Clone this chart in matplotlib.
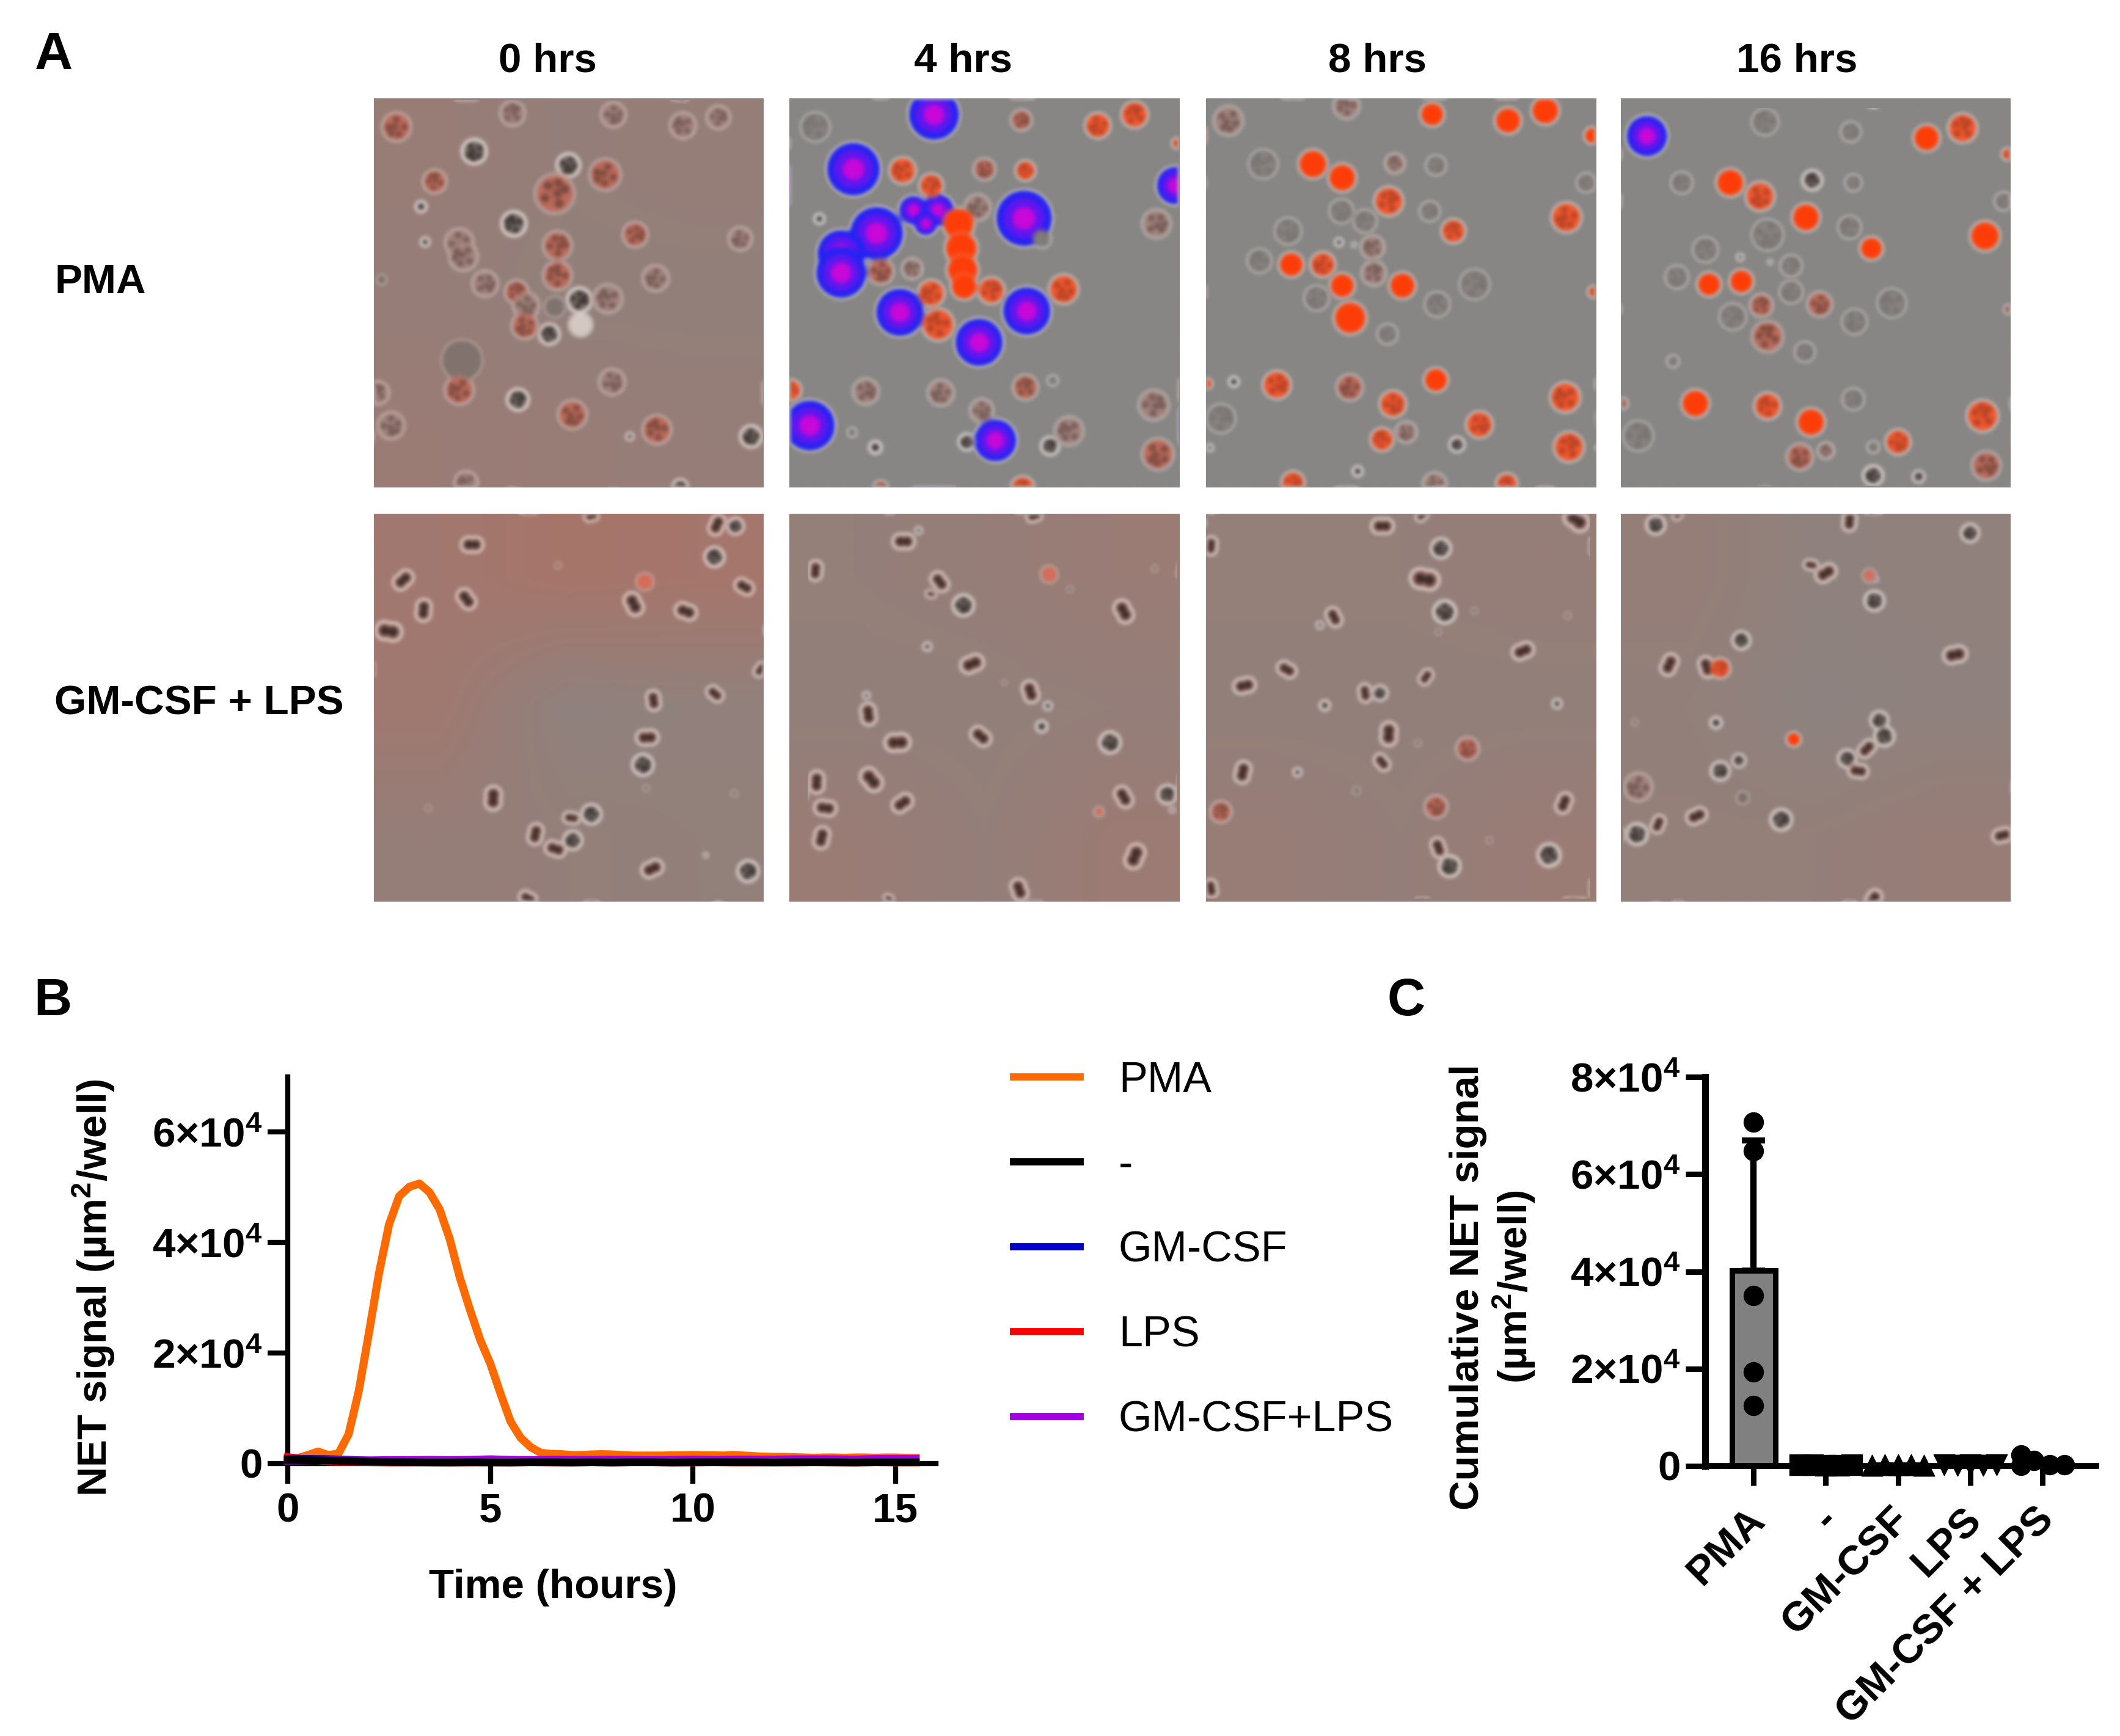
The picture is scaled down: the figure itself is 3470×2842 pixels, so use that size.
import math
import numpy as np
import matplotlib
matplotlib.use("Agg")
import matplotlib.pyplot as plt
from matplotlib.lines import Line2D
from matplotlib.transforms import ScaledTranslation

plt.rcParams["font.family"] = ["Liberation Sans", "DejaVu Sans"]
plt.rcParams["mathtext.fontset"] = "custom"
plt.rcParams["mathtext.rm"] = "Liberation Sans:bold"
plt.rcParams["mathtext.bf"] = "Liberation Sans:bold"
plt.rcParams["mathtext.default"] = "bf"

W, H = 3470, 2842

# --- panel A: cell positions (x, y, radius, kind)
pma_0 = [(350, 1030, 75, "m"), (690, 835, 38, "m"), (785, 900, 45, "w"),
         (110, 175, 55, "q"), (535, 125, 48, "p"), (905, 130, 48, "p"), (1160, 170, 50, "p"), (1290, 140, 45, "p"),
         (395, 265, 48, "d"), (250, 375, 45, "q"), (200, 467, 22, "s"), (875, 350, 60, "q"), (690, 420, 75, "q"),
         (740, 315, 45, "d"), (540, 530, 48, "d"), (985, 570, 48, "q"), (1370, 585, 45, "p"), (215, 597, 18, "s"),
         (340, 600, 55, "p"), (355, 650, 55, "p"), (700, 610, 55, "q"), (55, 735, 18, "f"), (700, 720, 55, "q"),
         (435, 750, 50, "p"), (1060, 730, 50, "p"), (550, 780, 45, "q"), (585, 830, 50, "p"), (885, 805, 55, "p"),
         (780, 810, 48, "d"), (580, 905, 50, "q"), (670, 935, 40, "d"), (900, 1110, 50, "p"), (340, 1140, 55, "q"),
         (555, 1175, 42, "d"), (755, 1230, 55, "q"), (1065, 1285, 55, "q"), (965, 1310, 15, "s"), (1410, 1310, 42, "d"),
         (40, 1150, 45, "p"), (90, 1270, 52, "p"), (365, 1480, 45, "p"), (1150, 1495, 30, "d")]

pma_4 = [(625, 130, 95, "b"), (330, 330, 100, "b"), (415, 565, 100, "b"), (285, 640, 90, "b"), (285, 710, 95, "b"),
         (550, 480, 55, "b"), (640, 480, 60, "b"), (595, 530, 45, "b"), (955, 510, 105, "b"), (500, 855, 90, "b"),
         (965, 850, 90, "b"), (790, 965, 90, "b"), (170, 1270, 95, "b"), (850, 1325, 80, "b"), (1510, 390, 72, "b"),
         (945, 150, 40, "q"), (1225, 170, 48, "o"), (1360, 130, 50, "o"), (1515, 235, 20, "o"), (510, 335, 50, "o"),
         (615, 390, 45, "o"), (810, 330, 42, "q"), (960, 335, 38, "o"), (1440, 530, 55, "p"), (785, 470, 50, "p"),
         (1020, 585, 35, "g"), (430, 705, 50, "q"), (545, 695, 40, "p"), (715, 530, 60, "r"), (725, 620, 62, "r"),
         (730, 700, 60, "r"), (735, 760, 50, "r"), (615, 785, 50, "o"), (835, 775, 50, "o"), (1100, 770, 55, "o"),
         (640, 900, 60, "o"), (375, 1145, 50, "p"), (650, 1150, 50, "p"), (960, 1130, 48, "q"), (800, 1215, 45, "p"),
         (1120, 1290, 55, "p"), (1430, 1195, 58, "p"), (1445, 1375, 60, "q"), (100, 1140, 40, "o"), (410, 1350, 25, "s"),
         (745, 1330, 32, "d"), (1050, 1345, 35, "d"), (205, 512, 20, "s"), (190, 175, 55, "g"), (1060, 1105, 20, "g"),
         (325, 1295, 18, "g"), (950, 1500, 45, "o"), (430, 1500, 30, "q")]

pma_8 = [(90, 90, 62, "p"), (565, 30, 55, "p"), (910, 65, 50, "r"), (1215, 90, 55, "r"), (1365, 50, 58, "r"),
         (1555, 150, 35, "r"), (230, 265, 60, "g"), (430, 265, 60, "r"), (548, 320, 58, "r"), (760, 262, 42, "p"),
         (925, 270, 42, "g"), (1530, 340, 40, "g"), (735, 415, 60, "o"), (545, 455, 50, "g"), (640, 495, 48, "g"),
         (900, 455, 42, "g"), (1450, 480, 62, "o"), (995, 535, 50, "o"), (330, 535, 55, "g"), (670, 600, 50, "p"),
         (535, 580, 18, "s"), (595, 590, 10, "s"), (215, 655, 50, "g"), (343, 670, 52, "r"), (470, 670, 52, "o"),
         (675, 705, 52, "p"), (548, 755, 52, "r"), (790, 755, 55, "r"), (1080, 750, 62, "g"), (445, 805, 52, "g"),
         (930, 830, 52, "g"), (580, 885, 68, "r"), (730, 950, 42, "g"), (1560, 780, 25, "o"), (5, 1150, 22, "r"),
         (112, 1142, 22, "s"), (285, 1155, 58, "o"), (578, 1165, 55, "q"), (925, 1135, 50, "r"), (752, 1232, 55, "o"),
         (1445, 1205, 62, "o"), (60, 1290, 60, "g"), (805, 1345, 45, "p"), (708, 1375, 48, "o"), (1100, 1315, 55, "o"),
         (1010, 1395, 32, "d"), (1460, 1405, 62, "o"), (15, 1408, 15, "s"), (610, 1503, 22, "s"), (350, 1550, 48, "o"),
         (920, 1555, 50, "p"), (1210, 1555, 45, "o")]

pma_16 = [(105, 152, 85, "b"), (580, 95, 55, "g"), (925, 135, 42, "g"), (1230, 160, 55, "r"), (1375, 120, 60, "o"),
          (1555, 225, 25, "o"), (245, 340, 45, "g"), (440, 340, 58, "r"), (560, 395, 60, "o"), (770, 330, 42, "d"),
          (935, 340, 35, "g"), (1540, 415, 38, "g"), (745, 480, 58, "r"), (590, 550, 65, "g"), (920, 520, 48, "g"),
          (1465, 555, 62, "r"), (1008, 605, 48, "r"), (340, 610, 52, "g"), (480, 640, 15, "s"), (600, 660, 10, "s"),
          (685, 675, 45, "g"), (225, 720, 48, "g"), (355, 750, 50, "r"), (485, 738, 50, "r"), (685, 780, 48, "g"),
          (565, 835, 48, "q"), (800, 830, 52, "q"), (1090, 825, 60, "g"), (450, 880, 55, "g"), (940, 900, 52, "g"),
          (590, 960, 65, "q"), (740, 1022, 42, "g"), (1560, 850, 20, "q"), (210, 1060, 25, "g"), (300, 1230, 58, "r"),
          (590, 1240, 55, "o"), (935, 1212, 45, "g"), (765, 1305, 58, "r"), (1455, 1280, 65, "o"), (1115, 1385, 52, "o"),
          (5, 1230, 25, "q"), (70, 1360, 62, "g"), (720, 1445, 55, "q"), (825, 1420, 35, "p"), (1470, 1480, 60, "q"),
          (1015, 1520, 42, "d"), (1198, 1525, 25, "d"), (1015, 1405, 25, "g")]

gm_0 = [(395, 125, 42, "n"), (118, 268, 42, "n"), (200, 390, 42, "n"), (372, 345, 42, "n"), (60, 475, 50, "n"),
        (740, 210, 12, "f"), (1090, 275, 35, "t"), (1045, 365, 45, "n"), (1255, 395, 42, "n"), (1370, 175, 42, "d"),
        (1380, 45, 40, "n"), (1455, 50, 35, "d"), (1490, 295, 38, "n"), (875, 10, 28, "n"), (1555, 630, 30, "n"),
        (1125, 755, 38, "n"), (1372, 728, 35, "n"), (1100, 905, 42, "n"), (1082, 1015, 45, "d"), (480, 1150, 45, "n"),
        (220, 1190, 12, "f"), (795, 1230, 32, "n"), (875, 1215, 42, "d"), (650, 1295, 40, "n"), (800, 1320, 40, "d"),
        (730, 1355, 40, "n"), (1120, 1435, 42, "n"), (1335, 1380, 10, "s"), (1505, 1445, 45, "d"), (620, 1555, 35, "n"),
        (1095, 1110, 12, "f"), (1450, 1130, 12, "f")]

gm_4 = [(460, 112, 42, "n"), (520, 68, 15, "s"), (105, 230, 38, "n"), (605, 275, 40, "n"), (570, 325, 20, "n"),
        (700, 370, 45, "d"), (1045, 245, 35, "t"), (1345, 395, 45, "n"), (555, 537, 18, "s"), (735, 607, 45, "n"),
        (865, 682, 10, "f"), (970, 720, 42, "n"), (1040, 777, 18, "s"), (1015, 860, 25, "s"), (310, 735, 15, "s"),
        (318, 810, 42, "n"), (770, 900, 42, "n"), (435, 925, 48, "n"), (1290, 925, 45, "d"), (110, 1085, 42, "n"),
        (330, 1075, 48, "n"), (145, 1190, 42, "n"), (455, 1170, 42, "n"), (130, 1310, 42, "n"), (1345, 1145, 42, "n"),
        (1520, 1135, 40, "d"), (1540, 1197, 12, "s"), (1390, 1385, 48, "n"), (925, 1520, 42, "n"), (400, 1555, 20, "n"),
        (985, 10, 30, "n"), (1245, 1205, 20, "t"), (1470, 222, 12, "f"), (1130, 305, 12, "f")]

gm_8 = [(710, 50, 42, "n"), (870, 5, 28, "n"), (20, 130, 35, "n"), (945, 140, 42, "d"), (880, 265, 55, "n"),
        (960, 397, 48, "d"), (935, 478, 12, "f"), (515, 418, 38, "n"), (458, 450, 15, "s"), (1275, 555, 42, "n"),
        (1080, 392, 12, "f"), (1455, 412, 12, "f"), (325, 630, 38, "n"), (155, 695, 42, "n"), (885, 660, 32, "n"),
        (640, 725, 35, "n"), (700, 725, 32, "d"), (478, 775, 22, "s"), (1412, 768, 20, "s"), (735, 890, 45, "n"),
        (708, 1005, 35, "n"), (1052, 950, 48, "q"), (852, 928, 12, "f"), (148, 1045, 42, "n"), (368, 1045, 18, "s"),
        (60, 1205, 45, "q"), (925, 1185, 48, "q"), (1440, 1170, 40, "n"), (935, 1350, 38, "n"), (980, 1425, 45, "d"),
        (1380, 1380, 48, "d"), (1140, 1320, 12, "f"), (20, 1515, 35, "n"), (1490, 25, 50, "n"), (605, 1120, 15, "f")]

gm_16 = [(140, 45, 40, "d"), (230, 5, 22, "n"), (920, 30, 38, "n"), (1405, 78, 38, "d"), (765, 207, 28, "n"),
         (825, 240, 42, "n"), (1000, 250, 28, "t"), (1025, 265, 10, "s"), (1020, 352, 42, "d"), (485, 512, 38, "d"),
         (195, 610, 42, "n"), (345, 620, 40, "n"), (400, 625, 42, "o"), (1345, 570, 45, "n"), (55, 843, 12, "f"),
         (383, 845, 25, "s"), (1040, 835, 38, "d"), (1060, 900, 42, "d"), (990, 950, 38, "n"), (695, 912, 30, "r"),
         (910, 990, 38, "d"), (955, 1040, 38, "n"), (475, 998, 28, "d"), (400, 1040, 40, "d"), (70, 1105, 60, "p"),
         (490, 1148, 25, "f"), (305, 1222, 40, "n"), (150, 1255, 35, "n"), (645, 1237, 45, "d"), (65, 1295, 45, "d"),
         (1535, 1300, 38, "n"), (1015, 1560, 40, "n")]

# pink tint of each micrograph background, coarse 3x3 grid
tint_pma_0 = [[0.45, 0.35, 0.4], [0.4, 0.3, 0.3], [0.5, 0.45, 0.4]]
tint_flat = [[0.0, 0.0, 0.0], [0.0, 0.0, 0.0], [0.0, 0.0, 0.0]]
tint_gm_0 = [[0.7, 0.85, 0.8], [0.65, 0.2, 0.25], [0.4, 0.35, 0.3]]
tint_gm_4 = [[0.35, 0.4, 0.5], [0.3, 0.3, 0.35], [0.5, 0.35, 0.55]]
tint_gm_8 = [[0.35, 0.35, 0.4], [0.3, 0.3, 0.3], [0.45, 0.35, 0.5]]
tint_gm_16 = [[0.4, 0.2, 0.25], [0.3, 0.15, 0.2], [0.35, 0.35, 0.45]]

top_row = [pma_0, pma_4, pma_8, pma_16]
bottom_row = [gm_0, gm_4, gm_8, gm_16]
top_tints = [tint_pma_0, tint_flat, tint_flat, tint_flat]
bottom_tints = [tint_gm_0, tint_gm_4, tint_gm_8, tint_gm_16]
column_titles = ["0 hrs", "4 hrs", "8 hrs", "16 hrs"]

# --- panel B
hours = [i * 0.25 for i in range(63)]
pma_signal = [1000, 1000, 1550, 2170, 1550, 1790, 5280, 13040, 23500, 34400, 43300, 48400, 50100, 50700, 49100, 46000,
              40600, 33600, 27800, 22400, 18100, 12700, 7600, 4660, 2950, 1940, 1750, 1700, 1550, 1550, 1650, 1700,
              1650, 1550, 1450, 1450, 1450, 1450, 1500, 1500, 1550, 1500, 1500, 1450, 1550, 1450, 1350, 1250,
              1200, 1200, 1150, 1100, 1050, 1100, 1100, 1050, 1100, 1100, 1050, 1100, 1100, 1050, 1050]
hours_low = [i * 0.5 for i in range(32)]
none_signal = [650, 600, 550, 450, 350, 300, 250, 200, 200, 250, 200, 200, 250, 250, 200, 250,
               200, 250, 250, 200, 250, 300, 250, 250, 200, 250, 250, 250, 200, 250, 250, 250]
gm_signal = [800, 850, 800, 700, 550, 400, 350, 300, 300, 300, 250, 300, 300, 250, 300, 300,
             250, 300, 250, 250, 300, 250, 300, 300, 250, 250, 300, 250, 250, 300, 250, 250]
lps_signal = [1200, 700, 400, 300, 250, 200, 200, 250, 200, 200, 250, 200, 250, 200, 200, 250,
              200, 250, 250, 200, 200, 250, 200, 200, 250, 200, 250, 200, 200, 250, 200, 200]
gmlps_signal = [500, 550, 600, 600, 600, 650, 650, 700, 650, 700, 800, 700, 650, 750, 700, 700,
                750, 700, 650, 700, 750, 700, 750, 750, 750, 800, 800, 800, 750, 850, 850, 850]
legend_labels = ["PMA", "-", "GM-CSF", "LPS", "GM-CSF+LPS"]
legend_colors = ["#FF6A00", "#000000", "#0000C8", "#FF0000", "#A000E0"]
b_yticks = [0, 20000, 40000, 60000]
b_yticklabels = ["0", r"$\mathbf{2{\times}10^{4}}$", r"$\mathbf{4{\times}10^{4}}$", r"$\mathbf{6{\times}10^{4}}$"]
b_xticks = [0, 5, 10, 15]

# --- panel C
groups = ["PMA", "-", "GM-CSF", "LPS", "GM-CSF + LPS"]
group_means = [40200, 300, 300, 200, 600]
pma_sd = 26800
pma_points = [70700, 64800, 35000, 19400, 12400]
none_dx = [-0.36, -0.18, 0.0, 0.18, 0.36]
none_points = [200, 250, 100, 150, 200]
gm_dx = [-0.36, -0.18, 0.0, 0.18, 0.36]
gm_points = [100, 250, 200, 300, 100]
lps_dx = [-0.36, -0.18, 0.0, 0.18, 0.36]
lps_points = [250, 150, 300, 100, 300]
gmlps_dx = [-0.3, -0.3, -0.12, 0.1, 0.3]
gmlps_points = [2300, 100, 1100, 300, 300]
c_yticks = [0, 20000, 40000, 60000, 80000]
c_yticklabels = ["0", r"$\mathbf{2{\times}10^{4}}$", r"$\mathbf{4{\times}10^{4}}$",
                 r"$\mathbf{6{\times}10^{4}}$", r"$\mathbf{8{\times}10^{4}}$"]


def px_axes(left, top, right, bottom):
    return fig.add_axes([left / W, 1 - bottom / H, (right - left) / W, (bottom - top) / H])


def soften(img, dpi):
    out = img
    for _ in range(3):
        for axis in (0, 1):
            out = (np.roll(out, -2, axis) + np.roll(out, -1, axis) + out
                   + np.roll(out, 1, axis) + np.roll(out, 2, axis)) / 5
    return out, 0, 0


# kind: layers of (radius factor, colour), then grain colour
cell_styles = {
    "p": ([(1.0, "#C4A49C66"), (0.88, "#A68680ff")], "#55403Caa"),
    "q": ([(1.0, "#D0948877"), (0.88, "#BE6C5Cff")], "#5A3830aa"),
    "o": ([(1.0, "#E88C70cc"), (0.9, "#F4582Eff")], "#7A302088"),
    "r": ([(1.0, "#F07858cc"), (0.88, "#FF3E08ff")], None),
    "g": ([(1.0, "#A8A09A66"), (0.92, "#5E5854bb"), (0.82, "#8A8684ff")], "#6C666288"),
    "d": ([(1.0, "#E8DCD6ff"), (0.8, "#7A6E6Aff")], "#2A2422dd"),
    "n": ([(0.78, "#E4CCC4ff"), (0.6, "#8A6258ff"), (0.36, "#3C2A28ff")], None),
    "s": ([(1.0, "#D4CAC6ff"), (0.55, "#302A2Aff")], None),
    "f": ([(1.0, "#6E686899")], None),
    "t": ([(1.0, "#F0684Caa")], None),
    "b": ([(1.0, "#2424F4ff"), (0.72, "#5E18F0ff"), (0.4, "#C808D8ff")], None),
    "w": ([(1.0, "#E4DCD6cc")], None),
    "m": ([(1.0, "#6E6A6888")], None),
}
grain_dx = [-0.42, 0.3, -0.1, 0.48, -0.32, 0.12]
grain_dy = [-0.3, -0.42, 0.08, 0.18, 0.45, 0.55]
lobe_offsets = [-0.34, 0.34]


def draw_panel(ax, cells, tint, xlim, ylim):
    grey = np.array([136, 134, 132]) / 255
    pink = np.array([172, 114, 102]) / 255
    t = np.array(tint)[:, :, None]
    ax.imshow(grey * (1 - t) + pink * t, extent=[xlim[0], xlim[1], ylim[0], ylim[1]],
              aspect="auto", interpolation="bilinear", zorder=0)
    scale = 638 / abs(xlim[1] - xlim[0]) * 0.72
    xs, ys, sizes, colors = [], [], [], []
    for i, (x, y, r, kind) in enumerate(cells):
        layers, grain = cell_styles[kind]
        c, s = math.cos(i * 2.4), math.sin(i * 2.4)
        # the shrunken neutrophils are elongated, so they get two lobes
        lobes = lobe_offsets if kind == "n" else [0]
        for factor, color in layers:
            for lobe in lobes:
                xs.append(x + r * lobe * c)
                ys.append(y + r * lobe * s)
                sizes.append((2 * r * factor * scale) ** 2)
                colors.append(color)
        if grain:
            for dx, dy in zip(grain_dx, grain_dy):
                xs.append(x + r * (c * dx - s * dy))
                ys.append(y + r * (s * dx + c * dy))
                sizes.append((2 * r * 0.22 * scale) ** 2)
                colors.append(grain)
    sc = ax.scatter(xs, ys, s=sizes, c=colors, linewidths=0, zorder=2)
    sc.set_agg_filter(soften)
    ax.set_xlim(xlim)
    ax.set_ylim(ylim)
    ax.axis("off")


fig = plt.figure(figsize=(W / 100, H / 100), dpi=100, facecolor="white")

column_left = [612, 1292, 1974, 2653]
top_limits = [((27, 1456), (1497, 70)), ((95, 1523), (1497, 70)), ((0, 1568), (1568, 0)), ((0, 1568), (1568, 0))]
for i in range(4):
    ax = px_axes(column_left[i], 161, column_left[i] + 638, 798)
    draw_panel(ax, top_row[i], top_tints[i], top_limits[i][0], top_limits[i][1])
    ax = px_axes(column_left[i], 841, column_left[i] + 638, 1476)
    draw_panel(ax, bottom_row[i], bottom_tints[i], (0, 1568), (1568, 0))

title_x = [896, 1576, 2255, 2941]
for x, label in zip(title_x, column_titles):
    fig.text(x / W, 1 - 100 / H, label, fontsize=48.5, fontweight="bold", ha="center", va="center")
fig.text(89 / W, 1 - 463 / H, "PMA", fontsize=48.5, fontweight="bold", ha="left", va="center")
fig.text(89 / W, 1 - 1153 / H, "GM-CSF + LPS", fontsize=48.5, fontweight="bold", ha="left", va="center")
fig.text(88 / W, 1 - 91 / H, "A", fontsize=62, fontweight="bold", ha="center", va="center")
fig.text(86 / W, 1 - 1640 / H, "B", fontsize=62, fontweight="bold", ha="center", va="center")
fig.text(2302 / W, 1 - 1640 / H, "C", fontsize=62, fontweight="bold", ha="center", va="center")

# panel B
ax_b = px_axes(471, 1763, 1532, 2396)
ax_b.plot(hours, pma_signal, color=legend_colors[0], lw=9.5, zorder=3, clip_on=False)
ax_b.plot(hours_low, lps_signal, color=legend_colors[3], lw=9, zorder=3, clip_on=False)
ax_b.plot(hours_low, gm_signal, color=legend_colors[2], lw=9, zorder=3, clip_on=False)
ax_b.plot(hours_low, gmlps_signal, color=legend_colors[4], lw=9, zorder=3, clip_on=False)
ax_b.plot(hours_low, none_signal, color=legend_colors[1], lw=9, zorder=3, clip_on=False)
ax_b.set_xlim(0, 16)
ax_b.set_ylim(0, 70000)
ax_b.set_xticks(b_xticks)
ax_b.set_yticks(b_yticks)
ax_b.set_yticklabels(b_yticklabels)
ax_b.tick_params(length=24, width=6, labelsize=48.5, pad=6)
ax_b.tick_params(axis="x", pad=10)
for label in ax_b.get_xticklabels() + ax_b.get_yticklabels():
    label.set_fontweight("bold")
ax_b.spines["top"].set_visible(False)
ax_b.spines["right"].set_visible(False)
ax_b.spines["left"].set_linewidth(6)
ax_b.spines["bottom"].set_linewidth(6)
fig.text(153 / W, 1 - 2108 / H, r"NET signal (µm$^{\mathbf{2}}$/well)", fontsize=48.5, fontweight="bold",
         rotation=90, ha="center", va="center")
fig.text(905 / W, 1 - 2599 / H, "Time (hours)", fontsize=48.5, fontweight="bold", ha="center", va="center")

handles = [Line2D([], [], color=c, lw=8.5) for c in legend_colors]
ax_b.legend(handles, legend_labels, loc="upper left", bbox_to_anchor=(1659 / W, 1 - 1737 / H),
            bbox_transform=fig.transFigure, frameon=False, fontsize=50.5, handlelength=1.55,
            handletextpad=0.9, labelspacing=1.04, borderpad=0, borderaxespad=0)

# panel C
ax_c = px_axes(2791, 1763, 3431, 2400)
positions = list(range(len(groups)))
ax_c.bar(positions, group_means, width=0.6, color="#808080", edgecolor="black", linewidth=6.5, zorder=2, clip_on=False)
ax_c.errorbar([0], [group_means[0]], yerr=[[0], [pma_sd]], color="black", elinewidth=7.5, capsize=14,
              capthick=7, zorder=3)
ax_c.scatter([0] * len(pma_points), pma_points, s=530, c="black", marker="o", zorder=4, clip_on=False)
ax_c.scatter([1 + d for d in none_dx], none_points, s=600, c="black", marker="s", zorder=4, clip_on=False)
ax_c.scatter([2 + d for d in gm_dx], gm_points, s=620, c="black", marker="^", zorder=4, clip_on=False)
ax_c.scatter([3 + d for d in lps_dx], lps_points, s=620, c="black", marker="v", zorder=4, clip_on=False)
ax_c.scatter([4 + d for d in gmlps_dx], gmlps_points, s=530, c="black", marker="o", zorder=4, clip_on=False)
ax_c.set_xlim(-0.668, 4.74)
ax_c.set_ylim(0, 80000)
ax_c.set_xticks(positions)
ax_c.set_xticklabels(groups, rotation=45, ha="right", rotation_mode="anchor", fontsize=48.5, fontweight="bold")
ax_c.set_yticks(c_yticks)
ax_c.set_yticklabels(c_yticklabels, fontsize=48.5, fontweight="bold")
ax_c.tick_params(length=23, width=6.5, pad=6)
ax_c.tick_params(axis="x", pad=18)
for label in ax_c.get_xticklabels():
    label.set_transform(label.get_transform() + ScaledTranslation(-0.13, 0, fig.dpi_scale_trans))
ax_c.spines["top"].set_visible(False)
ax_c.spines["right"].set_visible(False)
ax_c.spines["left"].set_linewidth(8)
ax_c.spines["bottom"].set_linewidth(7)
fig.text(2444 / W, 1 - 2107 / H, "Cumulative NET signal\n" + r"(µm$^{\mathbf{2}}$/well)", fontsize=48.5,
         fontweight="bold", rotation=90, ha="center", va="center", ma="center", linespacing=1.1)

fig.savefig("out.png", dpi=100)
